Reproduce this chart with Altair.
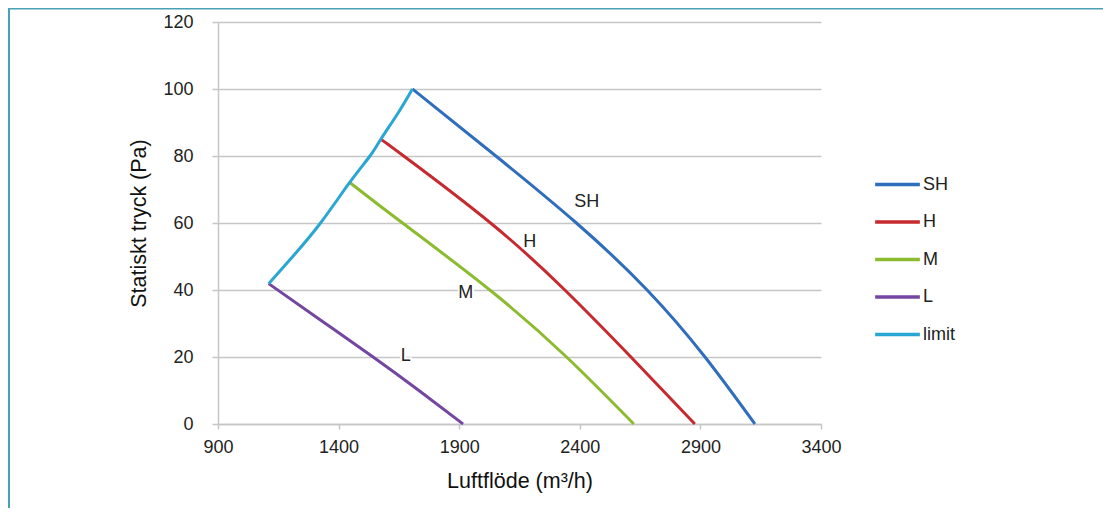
import altair as alt
import pandas as pd

# Series (x = airflow m³/h, y = static pressure Pa)
sh_x = [1706, 2052, 2386, 2679, 2919, 3126]
sh_y = [100, 80, 60, 40, 20, 0]
h_x = [1575, 1670, 2030, 2338, 2612, 2877]
h_y = [85.0, 80, 60, 40, 20, 0]
m_x = [1446, 1665, 2027, 2345, 2624]
m_y = [72.1, 60, 40, 20, 0]
l_x = [1110, 1326, 1543, 1733, 1916]
l_y = [41.9, 31, 20, 10, 0]
limit_x = [1110, 1210, 1325, 1446, 1530, 1575, 1648, 1706]
limit_y = [41.9, 50, 60, 72.1, 80, 85.0, 93, 100]

series_names = ["SH", "H", "M", "L", "limit"]
series_colors = ["#2f6dbd", "#c62a2f", "#8cbb2f", "#7346a2", "#2aa6d2"]

label_text = ["SH", "H", "M", "L"]
label_x = [2429, 2193, 1927, 1678]
label_y = [66.4, 54.2, 39.0, 20.4]

rows = []
for name, xs, ys in [("SH", sh_x, sh_y), ("H", h_x, h_y), ("M", m_x, m_y),
                     ("L", l_x, l_y), ("limit", limit_x, limit_y)]:
    for xv, yv in zip(xs, ys):
        rows.append({"series": name, "x": xv, "y": yv})
df = pd.DataFrame(rows)
labels_df = pd.DataFrame({"t": label_text, "x": label_x, "y": label_y})

W, H = 603, 402
font = "Liberation Sans"

xscale = alt.Scale(domain=[900, 3400], nice=False, zero=False)
yscale = alt.Scale(domain=[0, 120], nice=False)

lines = alt.Chart(df).mark_line(strokeWidth=3, interpolate="natural").encode(
    x=alt.X("x:Q", scale=xscale,
            axis=alt.Axis(title="Luftflöde (m³/h)", values=[900, 1400, 1900, 2400, 2900, 3400],
                          format="d", labelFlush=False,
                          grid=False, tickSize=5, labelPadding=9, titlePadding=14,
                          domainColor="#c6c6c6", tickColor="#c6c6c6", domainWidth=1.5, tickWidth=1.5)),
    y=alt.Y("y:Q", scale=yscale,
            axis=alt.Axis(title="Statiskt tryck (Pa)", values=[0, 20, 40, 60, 80, 100, 120],
                          grid=True, gridColor="#c6c6c6", gridWidth=1.5, tickSize=6,
                          labelPadding=19, titlePadding=12,
                          domainColor="#c6c6c6", tickColor="#c6c6c6", domainWidth=1.5, tickWidth=1.5)),
    color=alt.Color("series:N",
                    scale=alt.Scale(domain=series_names, range=series_colors),
                    legend=alt.Legend(title=None, orient="none", legendX=655, legendY=138,
                                      symbolType="stroke", symbolSize=2000, symbolStrokeWidth=3.5,
                                      rowPadding=3.5, labelFontSize=18, labelFont=font,
                                      labelColor="#222", labelOffset=1)),
    detail="series:N",
)

halo = alt.Chart(labels_df).mark_text(fontSize=18, font=font, color="white",
                                      stroke="white", strokeWidth=4).encode(
    x=alt.X("x:Q", scale=xscale), y=alt.Y("y:Q", scale=yscale), text="t:N")
txt = alt.Chart(labels_df).mark_text(fontSize=18, font=font, color="#222").encode(
    x=alt.X("x:Q", scale=xscale), y=alt.Y("y:Q", scale=yscale), text="t:N")

frame = alt.Chart(pd.DataFrame({"a": [0]})).mark_rect(
    fillOpacity=0, stroke="#4aa0b4", strokeWidth=2).encode(
    x=alt.value(-209), x2=alt.value(886), y=alt.value(-13.5), y2=alt.value(500))

chart = alt.layer(frame, lines, halo, txt).properties(
    width=W, height=H,
    autosize=alt.AutoSizeParams(type="none"),
    padding={"left": 210, "top": 14, "right": 282, "bottom": 84},
).configure_view(stroke=None).configure_axis(
    labelFont=font, titleFont=font, labelFontSize=18, titleFontSize=21.5,
    labelColor="#222", titleColor="#111", titleFontWeight="normal",
)

chart.save("out.html", embed_options={"renderer": "svg", "actions": False})
